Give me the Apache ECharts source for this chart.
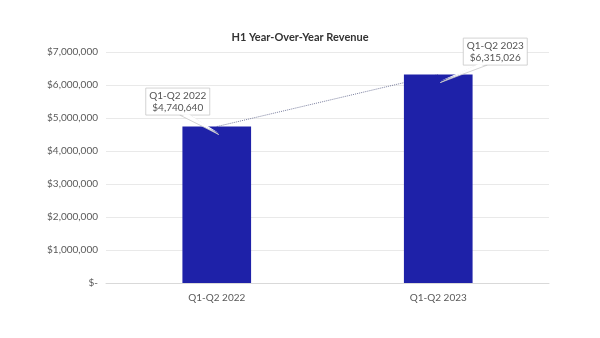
<!DOCTYPE html>
<html><head><meta charset="utf-8">
<script src="https://cdn.jsdelivr.net/npm/echarts@6/dist/echarts.min.js"></script>
<style>html,body{margin:0;padding:0;background:#fff}#c{width:600px;height:338px}</style>
</head><body><div id="c"></div>
<script>
var categories = ['Q1-Q2 2022', 'Q1-Q2 2023'];
var revenue = [4740640, 6315026];
var yTicks = [0, 1000000, 2000000, 3000000, 4000000, 5000000, 6000000, 7000000];
var calloutOffsets = [[-39, -25], [57, -23]];

function money(v) { return v === 0 ? '$-' : '$' + v.toLocaleString('en-US'); }

var chart = echarts.init(document.getElementById('c'));
chart.setOption({
  animation: false,
  textStyle: { fontFamily: 'Lato' },
  title: { text: 'H1 Year-Over-Year Revenue', left: 'center', top: 27,
    textStyle: { fontSize: 11, fontWeight: 'bold', color: '#333', fontFamily: 'Lato' } },
  grid: { left: 106, right: 51, top: 52, bottom: 55 },
  xAxis: { type: 'category', data: categories,
    axisLine: { lineStyle: { color: '#d9d9d9' } }, axisTick: { show: false },
    axisLabel: { color: '#595959', fontSize: 10, margin: 10 } },
  yAxis: { type: 'value', min: yTicks[0], max: yTicks[yTicks.length - 1], interval: 1000000,
    axisLine: { show: false }, axisTick: { show: false },
    splitLine: { lineStyle: { color: '#e9e9e9' } },
    axisLabel: { color: '#595959', fontSize: 10, margin: 8, formatter: money } },
  series: [
    { type: 'line', data: revenue, z: 1, symbol: 'none',
      lineStyle: { type: 'dotted', width: 1, color: '#7a7f9e' } },
    { type: 'bar', data: revenue, barWidth: '31%', z: 2,
      itemStyle: { color: '#1e21a8' } },
    { type: 'custom', z: 5, data: revenue.map(function (v, i) { return [i, v]; }),
      renderItem: function (params, api) {
        var i = params.dataIndex;
        var p = api.coord([api.value(0), api.value(1)]);
        var off = calloutOffsets[i];
        var cx = p[0] + off[0], cy = p[1] + off[1];
        var w = 64, h = 27;
        var tip = [p[0] + 2, p[1] + 8];
        var bx = cx - w / 2, by = cy - h / 2;
        var baseY = by + h;
        var base1 = i === 0 ? [cx + 2, baseY] : [cx - 18, baseY];
        var base2 = i === 0 ? [cx + 12, baseY] : [cx - 8, baseY];
        return { type: 'group', children: [
          { type: 'polygon', shape: { points: [base1, tip, base2] },
            style: { fill: '#fff', stroke: '#c8c8c8', lineWidth: 0.8 } },
          { type: 'rect', shape: { x: bx, y: by, width: w, height: h },
            style: { fill: '#fff', stroke: '#c8c8c8', lineWidth: 0.8 } },
          { type: 'polygon', shape: { points: [[base1[0] + 0.8, baseY - 0.8], [tip[0], tip[1] - 1.5], [base2[0] - 0.8, baseY - 0.8]] },
            style: { fill: '#fff' } },
          { type: 'text', style: { x: cx, y: cy, text: categories[i] + '\n' + money(api.value(1)),
            align: 'center', verticalAlign: 'middle', fill: '#555', fontSize: 10,
            fontFamily: 'Lato', lineHeight: 12 } }
        ] };
      } }
  ]
});
</script></body></html>
